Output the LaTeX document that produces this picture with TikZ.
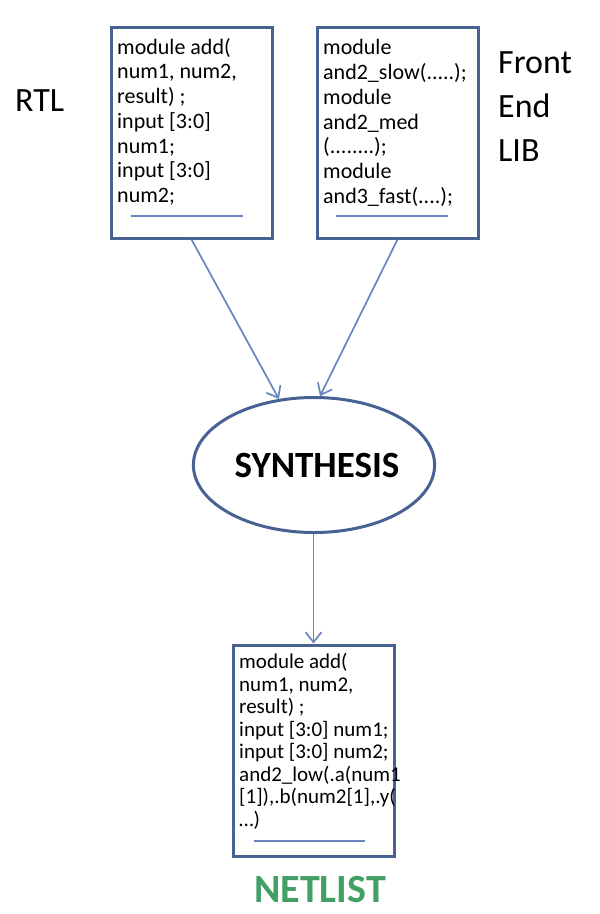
\documentclass[tikz,border=0pt]{standalone}
\usepackage{fontspec}
\setmainfont{Carlito}
\usetikzlibrary{shapes.geometric,arrows.meta}
\definecolor{boxblue}{RGB}{72,98,148}
\definecolor{arrowblue}{RGB}{104,134,190}
\definecolor{netgreen}{RGB}{66,160,100}
\tikzset{
  codebox/.style={draw=boxblue, line width=3pt, rectangle, inner sep=0pt},
  codetext/.style={anchor=north west, inner sep=0pt, align=left, font=\fontsize{22}{24.7}\selectfont},
  bigtext/.style={anchor=north west, inner sep=0pt, align=left, font=\fontsize{34}{44}\selectfont},
  flow/.style={draw=arrowblue, line width=1.7pt, -{Straight Barb[length=10pt,width=16pt,line width=1.7pt]}},
  underl/.style={draw=arrowblue, line width=2pt}
}
\begin{document}
\begin{tikzpicture}[x=1pt, y=-1pt]
    \useasboundingbox[fill=white] (0,0) rectangle (600,914);

    % the two boxes on top
    \node[codebox, anchor=north west, minimum width=161pt, minimum height=211pt] (rtl) at (109.5,25.5) {};
    \node[codetext] (rtltext) at (117,38) {module add(\\num1, num2,\\result) ;\\input [3:0]\\num1;\\input [3:0]\\num2;};
    \draw[underl] (rtl.south west) ++(21,-24) -- ++(112,0);

    \node[codebox, anchor=north west, minimum width=161pt, minimum height=211pt] (lib) at (315.5,25.5) {};
    \node[codetext] (libtext) at (323,39.5) {module\\and2\_slow(.....);\\module\\and2\_med\\(........);\\module\\and3\_fast(....);};
    \draw[underl] (lib.south west) ++(20,-24) -- ++(112,0);

    % side labels
    \node[bigtext] (rtllabel) at (15,89) {RTL};
    \node[bigtext] (liblabel) at (498,51) {Front\\End\\LIB};

    % synthesis
    \node[draw=boxblue, line width=3pt, ellipse, minimum width=238pt, minimum height=135pt, inner sep=0pt,
          font=\fontsize{37}{40}\bfseries] (synth) at (314,465) {\hspace*{6pt}SYNTHESIS};
    \draw[flow] (rtl.south) -- (synth.118);
    \draw[flow] (lib.south) -- (synth.85);

    % netlist
    \node[codebox, anchor=north west, minimum width=161pt, minimum height=211pt] (net) at (231.5,643.5) {};
    \node[codetext, font=\fontsize{21}{22.5}\selectfont] (nettext) at (239,653) {module add(\\num1, num2,\\result) ;\\input [3:0] num1;\\input [3:0] num2;\\and2\_low(.a(num1\\{}[1]),.b(num2[1],.y(\\…)};
    \draw[underl] (net.south west) ++(22,-17) -- ++(111,0);
    \draw[flow] (net.north |- synth.south) -- (net.north);

    \node[font=\fontsize{40}{44}\bfseries, text=netgreen, inner sep=0pt] (netlabel) at (320,890) {NETLIST};
\end{tikzpicture}
\end{document}
